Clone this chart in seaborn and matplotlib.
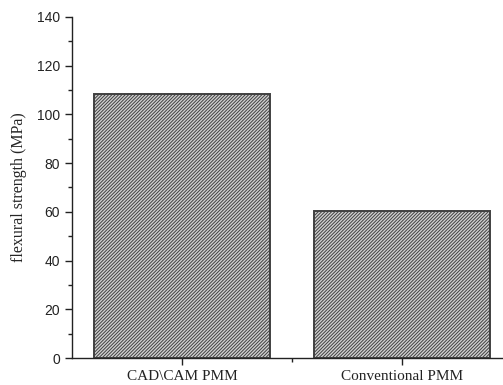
import matplotlib
matplotlib.use("Agg")
import matplotlib.pyplot as plt
from matplotlib.ticker import MultipleLocator
import seaborn as sns
import pandas as pd

groups = ["CAD\\CAM PMM", "Conventional PMM"]
strength = [108.2, 60.5]

sns.set_style("ticks")
plt.rcParams['hatch.linewidth'] = 0.7
plt.rcParams['hatch.color'] = '#303030'

df = pd.DataFrame({"group": groups, "strength": strength})

fig = plt.figure(figsize=(5.03, 3.85), dpi=100)
ax = fig.add_axes([0.143, 0.070, 0.857, 0.886])

sns.barplot(data=df, x="group", y="strength", color="#d0d0d0", width=0.8,
            edgecolor="#404040", linewidth=1.4, hatch="/" * 10, saturation=1, ax=ax)

ax.set_xlim(-0.5, 1.46)
ax.set_ylim(0, 140)
ax.yaxis.set_major_locator(MultipleLocator(20))
ax.yaxis.set_minor_locator(MultipleLocator(10))
ax.set_xticks([0.5], minor=True)
sns.despine(ax=ax)
for s in ["left", "bottom"]:
    ax.spines[s].set_color("#222222")
    ax.spines[s].set_linewidth(1.0)
ax.tick_params(axis="both", which="major", direction="out", length=5, width=1, colors="#222222")
ax.tick_params(axis="both", which="minor", direction="out", length=3, width=1, colors="#222222")

for lab in ax.get_yticklabels():
    lab.set_family("Liberation Sans")
    lab.set_fontsize(10)
for lab in ax.get_xticklabels():
    lab.set_family("Liberation Serif")
    lab.set_fontsize(11)

ax.set_xlabel("")
ax.set_ylabel("flexural strength (MPa)", family="Liberation Serif", fontsize=11.5, labelpad=7)

fig.savefig("out.png", dpi=100)
